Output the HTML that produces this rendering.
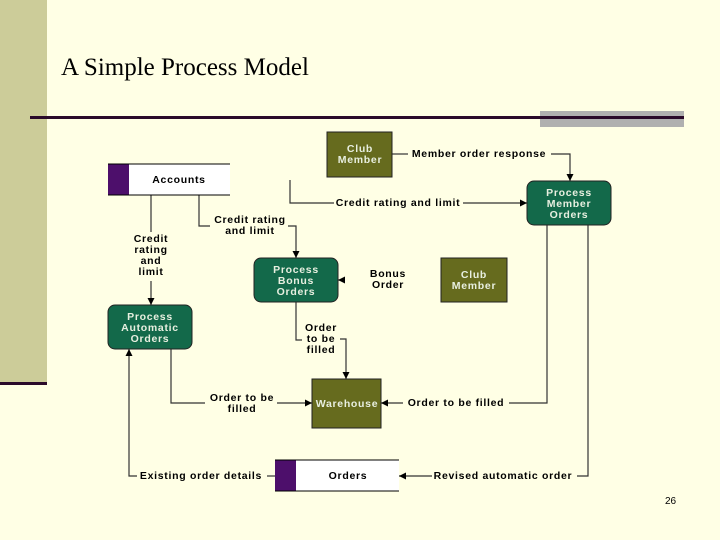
<!DOCTYPE html>
<html><head><meta charset="utf-8"><style>
html,body{margin:0;padding:0;background:#ffffe5;}
svg{display:block}
text{font-family:"Liberation Sans",sans-serif;font-weight:bold;font-size:10.5px;letter-spacing:0.7px}
</style></head><body>
<svg width="720" height="540" viewBox="0 0 720 540" xmlns="http://www.w3.org/2000/svg">
<defs><marker id="a" markerWidth="8" markerHeight="8" refX="7" refY="4" orient="auto" markerUnits="userSpaceOnUse"><path d="M0,0.5 L7,4 L0,7.5z" fill="#000"/></marker></defs>
<rect width="720" height="540" fill="#ffffe5"/>
<rect x="0" y="0" width="47" height="383" fill="#cccc99"/>
<rect x="0" y="382" width="47" height="3" fill="#2a0a2a"/>
<text x="61" y="75" style="font-family:'Liberation Serif',serif;font-weight:normal;font-size:25px;letter-spacing:0" fill="#000">A Simple Process Model</text>
<rect x="540" y="111" width="144" height="16" fill="#b0b0b0"/>
<rect x="30" y="116" width="654" height="3" fill="#2a0a2a"/>
<g stroke="#333" stroke-width="1.2" fill="none">
<path d="M392,154H408"/><path d="M551,154H570V181" marker-end="url(#a)"/>
<path d="M290,180V203H334"/><path d="M463,203H527" marker-end="url(#a)"/>
<path d="M151,195V232"/><path d="M151,281V305" marker-end="url(#a)"/>
<path d="M199,195V226H210"/><path d="M288,226H296V258" marker-end="url(#a)"/>
<path d="M345,280H338" marker-end="url(#a)"/>
<path d="M296,302V340H302"/><path d="M340,339H346V379" marker-end="url(#a)"/>
<path d="M171,349V403H205"/><path d="M277,403H312" marker-end="url(#a)"/>
<path d="M547,225V403H509"/><path d="M403,403H381" marker-end="url(#a)"/>
<path d="M588,225V476H577"/><path d="M432,476H399" marker-end="url(#a)"/>
<path d="M275,476H267"/><path d="M137,476H129V349" marker-end="url(#a)"/>
</g>
<g stroke="#222" stroke-width="1">
<rect x="327" y="132" width="65" height="45" fill="#666b1e"/>
<rect x="441" y="258" width="66" height="44" fill="#666b1e"/>
<rect x="312" y="379" width="69" height="49" fill="#666b1e"/>
<rect x="527" y="181" width="84" height="44" rx="7" fill="#13694a"/>
<rect x="254" y="258" width="84" height="44" rx="7" fill="#13694a"/>
<rect x="108" y="305" width="84" height="44" rx="7" fill="#13694a"/>
</g>
<rect x="108" y="164" width="122" height="31" fill="#fff"/><rect x="108" y="164" width="21" height="31" fill="#4d0f6b"/>
<path d="M108,164H230M108,195H230" stroke="#000"/>
<rect x="275" y="460" width="124" height="31" fill="#fff"/><rect x="275" y="460" width="21" height="31" fill="#4d0f6b"/>
<path d="M275,460H399M275,491H399" stroke="#000"/>
<g fill="#e8efe0" text-anchor="middle">
<text x="360" y="152">Club</text><text x="360" y="163">Member</text>
<text x="474" y="278">Club</text><text x="474" y="289">Member</text>
<text x="347" y="407">Warehouse</text>
<text x="569" y="196">Process</text><text x="569" y="207">Member</text><text x="569" y="218">Orders</text>
<text x="296" y="273">Process</text><text x="296" y="284">Bonus</text><text x="296" y="295">Orders</text>
<text x="150" y="320">Process</text><text x="150" y="331">Automatic</text><text x="150" y="342">Orders</text>
</g>
<g fill="#000" text-anchor="middle">
<text x="179" y="183">Accounts</text>
<text x="348" y="479">Orders</text>
<text x="479" y="157">Member order response</text>
<text x="398" y="206">Credit rating and limit</text>
<text x="250" y="223">Credit rating</text><text x="250" y="234">and limit</text>
<text x="151" y="242">Credit</text><text x="151" y="253">rating</text><text x="151" y="264">and</text><text x="151" y="275">limit</text>
<text x="388" y="277">Bonus</text><text x="388" y="288">Order</text>
<text x="321" y="331">Order</text><text x="321" y="342">to be</text><text x="321" y="353">filled</text>
<text x="242" y="401">Order to be</text><text x="242" y="412">filled</text>
<text x="456" y="406">Order to be filled</text>
<text x="503" y="479">Revised automatic order</text>
<text x="201" y="479">Existing order details</text>
</g>
<text x="665" y="504" style="font-weight:normal;font-size:10px;letter-spacing:0" fill="#000">26</text>
</svg>
</body></html>
